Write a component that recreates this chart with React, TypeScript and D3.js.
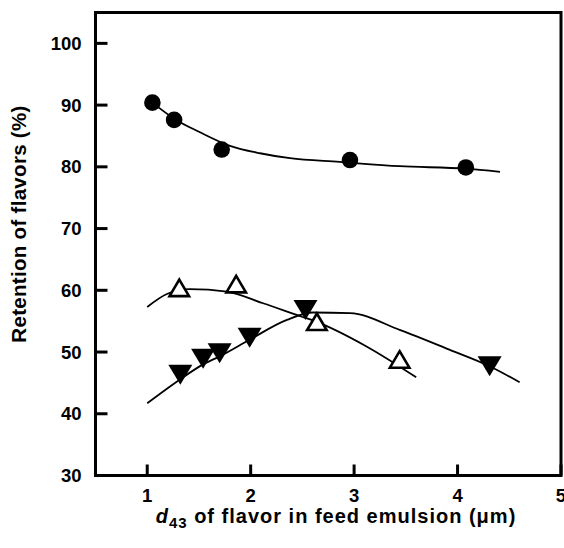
import React from "react";
import * as d3 from "d3";

// Measured retention points (x: d43 in µm, y: retention %)
const circleX = [1.05, 1.26, 1.72, 2.96, 4.08];
const circleY = [90.4, 87.6, 82.8, 81.1, 79.9];

const openTriX = [1.31, 1.86, 2.64, 3.44];
const openTriY = [60.4, 61.0, 54.9, 48.8];

const filledTriX = [1.32, 1.54, 1.70, 1.99, 2.53, 4.31];
const filledTriY = [46.3, 48.9, 49.8, 52.3, 56.8, 47.7];

// Fitted trend curves, traced as control points
const circleFitX = [1.05, 1.26, 1.51, 1.80, 2.09, 2.38, 2.86, 3.44, 4.08, 4.41];
const circleFitY = [90.4, 87.8, 85.6, 83.4, 82.2, 81.4, 80.8, 80.1, 79.7, 79.2];

const openFitX = [1.0, 1.19, 1.41, 1.77, 2.12, 2.48, 2.62, 3.12, 3.60];
const openFitY = [57.3, 59.4, 60.2, 59.8, 57.9, 55.8, 55.0, 50.9, 45.9];

const filledFitX = [1.0, 1.32, 1.54, 1.70, 1.99, 2.35, 2.60, 2.96, 3.44, 3.92, 4.31, 4.60];
const filledFitY = [41.7, 45.6, 48.0, 49.3, 52.0, 55.2, 56.4, 56.3, 53.6, 50.4, 47.7, 45.1];

const xTicks = [1, 2, 3, 4, 5];
const yTicks = [30, 40, 50, 60, 70, 80, 90, 100];

const W = 564;
const H = 548;
const left = 95.5;
const right = 561;
const top = 12.5;
const bottom = 475.5;

const font = "'Liberation Sans', Arial, Helvetica, sans-serif";

export default function App() {
  const x = d3.scaleLinear().domain([0.5, 5]).range([left, right]);
  const y = d3.scaleLinear().domain([30, 105]).range([bottom, top]);

  const line = d3
    .line<[number, number]>()
    .x((d) => x(d[0]))
    .y((d) => y(d[1]))
    .curve(d3.curveMonotoneX);

  const zip = (a: number[], b: number[]) => a.map((v, i) => [v, b[i]] as [number, number]);

  const upTri = (cx: number, cy: number) => {
    const w = 19.5, h = 16.5;
    return `M${cx},${cy - h / 2}L${cx + w / 2},${cy + h / 2}L${cx - w / 2},${cy + h / 2}Z`;
  };
  const downTri = (cx: number, cy: number) => {
    const w = 24, h = 20;
    return `M${cx - w / 2},${cy - h / 2}L${cx + w / 2},${cy - h / 2}L${cx},${cy + h / 2}Z`;
  };

  return (
    <svg
      width={W}
      height={H}
      style={{ position: "absolute", left: 0, top: 0, background: "#fff" }}
      fontFamily={font}
      fontWeight="bold"
    >
      {/* trend curves */}
      <g fill="none" stroke="#000" strokeWidth={1.8}>
        <path d={line(zip(circleFitX, circleFitY)) || ""} />
        <path d={line(zip(openFitX, openFitY)) || ""} />
        <path d={line(zip(filledFitX, filledFitY)) || ""} />
      </g>

      {/* markers */}
      {circleX.map((v, i) => (
        <circle key={`c${i}`} cx={x(v)} cy={y(circleY[i])} r={8.3} fill="#000" />
      ))}
      {filledTriX.map((v, i) => (
        <path key={`f${i}`} d={downTri(x(v), y(filledTriY[i]))} fill="#000" />
      ))}
      {openTriX.map((v, i) => (
        <path
          key={`o${i}`}
          d={upTri(x(v), y(openTriY[i]))}
          fill="#fff"
          stroke="#000"
          strokeWidth={2.6}
          strokeLinejoin="miter"
        />
      ))}

      {/* frame */}
      <rect
        x={left}
        y={top}
        width={right - left}
        height={bottom - top}
        fill="none"
        stroke="#000"
        strokeWidth={3}
      />

      {/* y ticks */}
      {yTicks.map((t) => (
        <g key={`y${t}`}>
          <line x1={left} x2={left + 12} y1={y(t)} y2={y(t)} stroke="#000" strokeWidth={3} />
          <text
            x={left - 14}
            y={y(t)}
            textAnchor="end"
            dominantBaseline="central"
            fontSize={18.5}
          >
            {t}
          </text>
        </g>
      ))}

      {/* x ticks */}
      {xTicks.map((t) => (
        <g key={`x${t}`}>
          <line x1={x(t)} x2={x(t)} y1={bottom} y2={bottom - 11} stroke="#000" strokeWidth={3} />
          <text x={x(t)} y={502} textAnchor="middle" fontSize={18.5}>
            {t}
          </text>
        </g>
      ))}

      {/* axis titles */}
      <text x={336} y={523} textAnchor="middle" fontSize={20} letterSpacing={1}>
        <tspan fontStyle="italic">d</tspan>
        <tspan fontSize={15} dy={5}>43</tspan>
        <tspan dy={-5}> of flavor in feed emulsion (μm)</tspan>
      </text>
      <text
        transform={`translate(25.5,224) rotate(-90)`}
        textAnchor="middle"
        fontSize={20.5}
        letterSpacing={0.3}
      >
        Retention of flavors (%)
      </text>
    </svg>
  );
}
